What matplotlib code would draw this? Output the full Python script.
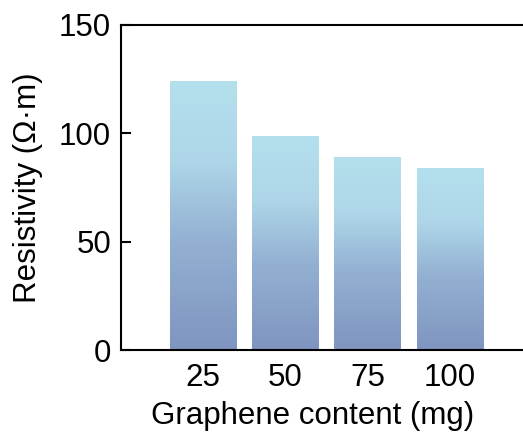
import matplotlib
matplotlib.use("Agg")
import matplotlib.pyplot as plt
import numpy as np
from matplotlib.colors import LinearSegmentedColormap

categories = ["25", "50", "75", "100"]
resistivity = [124.2, 98.8, 89.1, 84.0]
y_ticks = [0, 50, 100, 150]

plt.rcParams['font.family'] = ['Liberation Sans', 'DejaVu Sans']

fig = plt.figure(figsize=(5.23, 4.36), dpi=100)
ax = fig.add_axes([0.2308, 0.1972, 0.7870, 0.7461])

x = np.arange(len(categories))
bars = ax.bar(x, resistivity, width=0.81, color='none', edgecolor='none', zorder=2)

cmap = LinearSegmentedColormap.from_list(
    "grad", [(0.0, "#7f95c0"), (0.4, "#93b0d2"), (0.7, "#aed6e8"), (1.0, "#b4e0ed")])
grad = np.linspace(0, 1, 256).reshape(-1, 1)
for b in bars:
    x0, y0 = b.get_x(), b.get_y()
    w, h = b.get_width(), b.get_height()
    im = ax.imshow(grad, cmap=cmap, aspect='auto', origin='lower',
                   extent=[x0, x0 + w, y0, y0 + h], zorder=2)
    im.set_clip_path(b)

ax.set_xlim(-1, 4)
ax.set_ylim(0, 150)
ax.set_xticks(x)
ax.set_xticklabels(categories)
ax.set_yticks(y_ticks)

for s in ['left', 'bottom', 'top']:
    ax.spines[s].set_linewidth(1.5)
ax.spines['right'].set_visible(False)
ax.tick_params(direction='in', length=7, width=1.5, labelsize=22.5, pad=7)
ax.tick_params(axis='x', pad=9)

ax.set_xlabel("Graphene content (mg)", fontsize=22.5)
ax.xaxis.set_label_coords(0.467, -0.158)
ax.set_ylabel("Resistivity (Ω·m)", fontsize=22.5)
ax.yaxis.set_label_coords(-0.19, 0.5)

fig.savefig("out.png", dpi=100)
